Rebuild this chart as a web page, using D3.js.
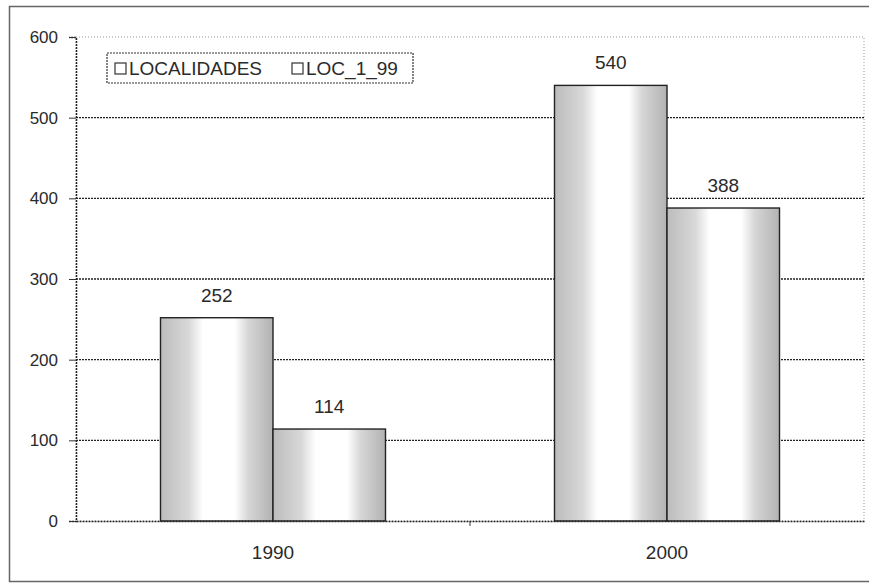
<!DOCTYPE html>
<html>
<head>
<meta charset="utf-8">
<script src="https://cdn.jsdelivr.net/npm/d3@7"></script>
<style>
  body { margin: 0; background: #fff; }
  svg text { font-family: "Liberation Sans", Arial, sans-serif; fill: #2a2a2a; }
</style>
</head>
<body>
<div class="chart"></div>
<script>
var years = ["1990", "2000"];
var seriesNames = ["LOCALIDADES", "LOC_1_99"];
var localidades = [252, 540];
var loc199 = [114, 388];
var yTicks = [0, 100, 200, 300, 400, 500, 600];

var margin = { top: 37, right: 5, bottom: 62, left: 76 };
var width = 869 - margin.left - margin.right;
var height = 583 - margin.top - margin.bottom;

var svg = d3.select(".chart")
  .append("svg")
  .attr("width", 869)
  .attr("height", 583);

// outer frame
svg.append("rect")
  .attr("x", 9.5).attr("y", 6.5)
  .attr("width", 869).attr("height", 575)
  .attr("fill", "none")
  .attr("stroke", "#666")
  .attr("stroke-width", 1.5);

var defs = svg.append("defs");
var grad = defs.append("linearGradient").attr("id", "cyl");
grad.append("stop").attr("offset", "0%").attr("stop-color", "#bcbcbc");
grad.append("stop").attr("offset", "25%").attr("stop-color", "#d8d8d8");
grad.append("stop").attr("offset", "38%").attr("stop-color", "#ffffff");
grad.append("stop").attr("offset", "66%").attr("stop-color", "#ffffff");
grad.append("stop").attr("offset", "78%").attr("stop-color", "#d6d6d6");
grad.append("stop").attr("offset", "100%").attr("stop-color", "#b2b2b2");

var g = svg.append("g")
  .attr("transform", "translate(" + margin.left + "," + margin.top + ")");

var x0 = d3.scaleBand().domain(years).range([0, width]);
var x1 = d3.scaleBand().domain(seriesNames).range([0, 225]);
var y = d3.scaleLinear().domain([0, 600]).range([height, 0]);

var rows = years.map((yr, i) => ({ year: yr, values: [localidades[i], loc199[i]] }));

// plot border (dotted light)
g.append("rect")
  .attr("x", 0).attr("y", 0)
  .attr("width", width).attr("height", height)
  .attr("fill", "none")
  .attr("stroke", "#999")
  .attr("stroke-dasharray", "1,2");

// grid lines
g.selectAll(".grid")
  .data(yTicks.filter(d => d > 0 && d < 600))
  .enter().append("line")
  .attr("x1", 0).attr("x2", width)
  .attr("y1", d => y(d)).attr("y2", d => y(d))
  .attr("stroke", "#222")
  .attr("stroke-width", 1.4)
  .attr("stroke-dasharray", "2,1");

// y axis
var yAxis = g.append("g")
  .call(d3.axisLeft(y).tickValues(yTicks).tickSize(7).tickPadding(11));
yAxis.select(".domain").attr("stroke", "#222").attr("stroke-width", 1.5).attr("stroke-dasharray", "2,1");
yAxis.selectAll(".tick line").attr("stroke", "#333");
yAxis.selectAll("text").style("font-size", "17px").attr("fill", "#2a2a2a");

// bars
var groups = g.selectAll(".grp")
  .data(rows)
  .enter().append("g")
  .attr("transform", d => "translate(" + (x0(d.year) + x0.bandwidth() / 2 - 112.5) + ",0)");

groups.selectAll("rect")
  .data(d => d.values.map((v, i) => ({ key: seriesNames[i], value: v })))
  .enter().append("rect")
  .attr("x", d => x1(d.key))
  .attr("width", x1.bandwidth())
  .attr("y", d => y(d.value))
  .attr("height", d => height - y(d.value))
  .attr("fill", "url(#cyl)")
  .attr("stroke", "#222")
  .attr("stroke-width", 1.4);

groups.selectAll(".lbl")
  .data(d => d.values.map((v, i) => ({ key: seriesNames[i], value: v })))
  .enter().append("text")
  .attr("x", d => x1(d.key) + x1.bandwidth() / 2)
  .attr("y", d => y(d.value) - 16)
  .attr("text-anchor", "middle")
  .style("font-size", "19px")
  .text(d => d.value);

// x axis
var xAxis = g.append("g")
  .attr("transform", "translate(0," + height + ")")
  .call(d3.axisBottom(x0).tickSize(0).tickPadding(25));
xAxis.select(".domain").attr("stroke", "#222").attr("stroke-width", 1.5).attr("stroke-dasharray", "2,1");
xAxis.selectAll("text").style("font-size", "19px").attr("fill", "#2a2a2a");
xAxis.append("line")
  .attr("x1", width / 2).attr("x2", width / 2)
  .attr("y1", 0).attr("y2", 5)
  .attr("stroke", "#333");

// legend
var legend = g.append("g").attr("transform", "translate(31,16)");
legend.append("rect")
  .attr("width", 306).attr("height", 30)
  .attr("fill", "#fff")
  .attr("stroke", "#333")
  .attr("stroke-width", 1.2)
  .attr("stroke-dasharray", "2,1");
var lx = [8, 185];
seriesNames.forEach((name, i) => {
  legend.append("rect")
    .attr("x", lx[i]).attr("y", 10)
    .attr("width", 11).attr("height", 11)
    .attr("fill", "#fff")
    .attr("stroke", "#333")
    .attr("stroke-width", 1.2);
  legend.append("text")
    .attr("x", lx[i] + 14).attr("y", 22)
    .style("font-size", "19px")
    .text(name);
});
</script>
</body>
</html>
